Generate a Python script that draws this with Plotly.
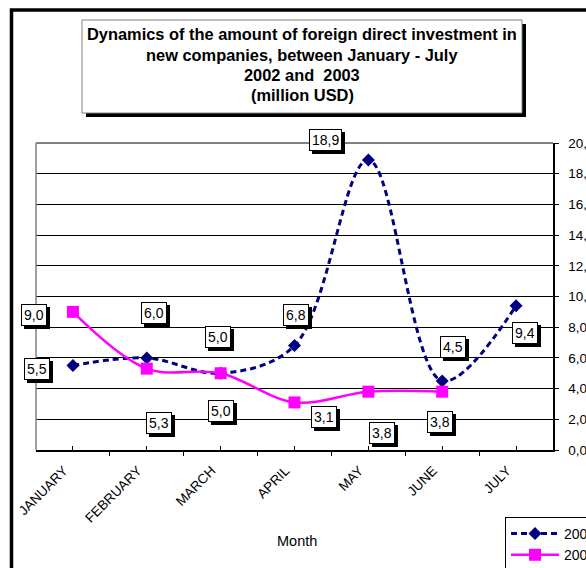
import plotly.graph_objects as go

# ---------------- data ----------------
months = ["JANUARY", "FEBRUARY", "MARCH", "APRIL", "MAY", "JUNE", "JULY"]
series_names = ["2002", "2003"]
values_2002 = [5.5, 6.0, 5.0, 6.8, 18.9, 4.5, 9.4]
values_2003 = [9.0, 5.3, 5.0, 3.1, 3.8, 3.8]
y_tick_values = [0, 2, 4, 6, 8, 10, 12, 14, 16, 18, 20]
y_tick_labels = ["0,0", "2,0", "4,0", "6,0", "8,0", "10,0", "12,0", "14,0", "16,0", "18,0", "20,0"]
title_lines = [
    "Dynamics of the amount of foreign direct investment in",
    "new companies, between January - July",
    "2002 and  2003",
    "(million USD)",
]
x_axis_title = "Month"

# ---------------- layout geometry ----------------
FONT = "Liberation Sans, Arial, sans-serif"
FIG_W, FIG_H = 586, 568
L, R, T, B = 36, 553, 143, 450
PW, PH = R - L, B - T


def px2x(px):
    return (px - L) / PW


def py2y(py):
    return (B - py) / PH


def fmt(v):
    return f"{v:.1f}".replace(".", ",")


NAVY = "#000080"
MAGENTA = "#FF00FF"

# label offsets (pixels, dy positive = up), purely presentational
off_2002 = [(-36, -3), (7, 45), (-3, 36), (1.5, 31), (-43, 20), (11, 34), (9, -27)]
off_2003 = [(-39, -3), (12, -54), (0, -38), (29.5, -15), (14, -41), (-2, -30)]

fig = go.Figure()

fig.add_trace(go.Scatter(
    x=list(range(len(values_2002))), y=values_2002, name=series_names[0],
    mode="lines+markers",
    line=dict(color=NAVY, width=3, dash="6px,4px", shape="spline", smoothing=1.0),
    marker=dict(symbol="diamond", size=10, color=NAVY),
))
fig.add_trace(go.Scatter(
    x=list(range(len(values_2003))), y=values_2003, name=series_names[1],
    mode="lines+markers",
    line=dict(color=MAGENTA, width=2.5, shape="spline", smoothing=1.0),
    marker=dict(symbol="square", size=12, color=MAGENTA),
))

annotations = []
for vals, offs in ((values_2002, off_2002), (values_2003, off_2003)):
    for i, (v, (dx, dy)) in enumerate(zip(vals, offs)):
        common = dict(x=i, y=v, xref="x", yref="y", text=fmt(v), showarrow=False,
                      borderpad=2, borderwidth=1)
        annotations.append(dict(common, xshift=dx + 3, yshift=dy - 3,
                                font=dict(family=FONT, size=14, color="black"),
                                bgcolor="black", bordercolor="black"))
        annotations.append(dict(common, xshift=dx, yshift=dy,
                                font=dict(family=FONT, size=14, color="black"),
                                bgcolor="white", bordercolor="black"))

# title lines
title_y = [34, 54.5, 75, 95.5]
for line, ly in zip(title_lines, title_y):
    annotations.append(dict(x=px2x(302), y=py2y(ly), xref="paper", yref="paper",
                            text=f"<b>{line}</b>", showarrow=False,
                            font=dict(family=FONT, size=16.4, color="black"),
                            xanchor="center", yanchor="middle"))

# x axis title
annotations.append(dict(x=px2x(297), y=py2y(541), xref="paper", yref="paper",
                        text=x_axis_title, showarrow=False,
                        font=dict(family=FONT, size=14.5, color="black"),
                        xanchor="center", yanchor="middle"))

shapes = [
    # outer chart border
    dict(type="rect", xref="paper", yref="paper",
         x0=px2x(11.5), x1=px2x(640), y0=py2y(10), y1=py2y(640),
         line=dict(color="black", width=3.5), fillcolor="rgba(0,0,0,0)", layer="below"),
    # title box shadow
    dict(type="rect", xref="paper", yref="paper",
         x0=px2x(86), x1=px2x(526), y0=py2y(24), y1=py2y(117),
         line=dict(color="black", width=0), fillcolor="black", layer="above"),
    # title box
    dict(type="rect", xref="paper", yref="paper",
         x0=px2x(82), x1=px2x(522), y0=py2y(20), y1=py2y(113),
         line=dict(color="#808080", width=1), fillcolor="white", layer="above"),
    # plot area border (left, top) in gray
    dict(type="line", xref="paper", yref="paper", x0=0, x1=0, y0=0, y1=1,
         line=dict(color="#808080", width=1.5), layer="above"),
    dict(type="line", xref="paper", yref="paper", x0=0, x1=1, y0=1, y1=1,
         line=dict(color="#808080", width=1.8), layer="above"),
]

fig.update_layout(
    width=FIG_W, height=FIG_H, autosize=False,
    margin=dict(l=L, r=FIG_W - R, t=T, b=FIG_H - B, pad=0, autoexpand=False),
    paper_bgcolor="white", plot_bgcolor="white",
    font=dict(family=FONT, size=13, color="black"),
    showlegend=True,
    legend=dict(x=px2x(505), y=py2y(517), xanchor="left", yanchor="top",
                bgcolor="white", bordercolor="black", borderwidth=1,
                font=dict(family=FONT, size=14, color="black"),
                itemwidth=48, tracegroupgap=0),
    annotations=annotations,
    shapes=shapes,
)

fig.update_xaxes(
    range=[-0.5, 6.5], tickmode="array", tickvals=list(range(len(months))), ticktext=months,
    tickangle=-45, ticks="inside", ticklen=4, tickcolor="black", tickwidth=1,
    ticklabelstandoff=6, ticklabelshift=-9,
    tickfont=dict(family=FONT, size=13.5, color="black"),
    showline=True, linecolor="black", linewidth=1.5, showgrid=False, zeroline=False,
    minor=dict(tick0=-0.5, dtick=1, ticks="outside", ticklen=4, tickcolor="black", tickwidth=1),
)
fig.update_yaxes(
    range=[0, 20], side="right", tickmode="array", tickvals=y_tick_values, ticktext=y_tick_labels,
    ticks="outside", ticklen=4, tickcolor="black", tickwidth=1, ticklabelstandoff=7,
    tickfont=dict(family=FONT, size=13.5, color="black"),
    showline=True, linecolor="black", linewidth=1.5,
    showgrid=True, gridcolor="black", gridwidth=1.2, zeroline=False,
)

fig.write_html("out.html", config={"displayModeBar": False, "staticPlot": True},
               post_script="document.body.style.margin='0';document.body.style.overflow='hidden';")
